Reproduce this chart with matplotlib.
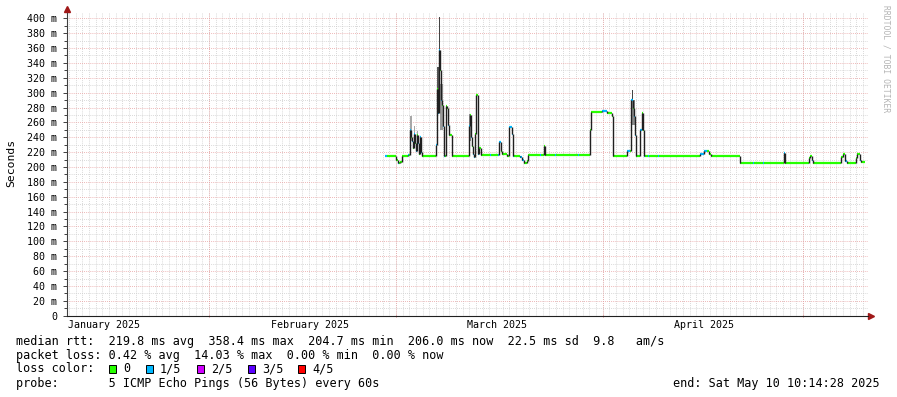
import matplotlib
matplotlib.use("Agg")
import matplotlib.pyplot as plt
from matplotlib.patches import Rectangle
import numpy as np

# days counted from 2025-01-01 00:00
start_day = 9.72
end_day = 129.74
month_starts = [31, 59, 90, 120]
month_label_days = [15.3, 46.1, 74.1, 105.1]
month_labels = ["January 2025", "February 2025", "March 2025", "April 2025"]

# median rtt steps: start day, value (ms), loss class (0 = none, 1 = 1/5 ...)
seg_day = [57.37, 57.67, 59.02, 59.32, 59.47, 59.62, 59.92, 60.82, 60.97, 61.12,
           61.27, 61.42, 61.57, 61.72, 61.87, 62.02, 62.17, 62.32, 62.47, 62.62,
           62.77, 62.92, 65.01, 65.16, 65.31, 65.46, 65.61, 65.76, 65.91, 66.06,
           66.21, 66.36, 66.51, 66.66, 66.81, 66.96, 67.41, 69.96, 70.11, 70.26,
           70.41, 70.56, 70.71, 70.86, 71.01, 71.31, 71.46, 71.76, 73.10, 73.25,
           74.30, 74.45, 74.75, 74.90, 75.65, 75.95, 76.40, 76.55, 76.70, 77.60,
           77.90, 78.20, 78.65, 78.80, 80.60, 80.75, 81.20, 81.35, 82.84, 82.99,
           86.29, 86.44, 88.09, 88.24, 89.89, 90.64, 91.38, 91.53, 93.63, 94.08,
           94.23, 94.53, 94.68, 94.83, 94.98, 95.58, 95.88, 96.03, 96.18, 96.33,
           96.78, 96.93, 98.28, 98.43, 104.57, 105.17, 105.62, 105.92, 106.22, 110.56,
           112.51, 112.66, 114.01, 114.16, 117.16, 117.31, 120.90, 121.05, 121.35, 121.50,
           125.70, 126.00, 126.30, 126.60, 127.94, 128.09, 128.54, 128.69]
rtt = [215, 215, 209, 205, 205, 207, 215, 216, 216, 250,
       240, 235, 225, 245, 232, 222, 243, 232, 218, 240,
       220, 215, 230, 305, 272, 358, 330, 290, 283, 255,
       215, 215, 282, 280, 256, 243, 215, 255, 270, 240,
       228, 218, 213, 245, 297, 217, 225, 216, 216, 216,
       216, 234, 222, 217, 215, 254, 245, 215, 215, 213,
       209, 206, 208, 216, 216, 216, 228, 216, 216, 216,
       216, 216, 250, 274, 275, 273, 268, 215, 221, 222,
       290, 280, 268, 243, 215, 250, 272, 250, 215, 215,
       215, 215, 215, 215, 217, 221, 222, 218, 215, 206,
       206, 206, 206, 206, 219, 206, 212, 215, 209, 206,
       213, 217, 208, 206, 212, 217, 210, 207]
loss = [1, 0, 0, 1, 0, 0, 0, 1, 0, 1,
        0, 1, 0, 1, 0, 1, 0, 1, 0, 1,
        1, 0, 1, 0, 1, 1, 0, 1, 0, 1,
        1, 0, 0, 0, 1, 0, 0, 1, 0, 1,
        0, 1, 1, 0, 0, 1, 0, 0, 1, 0,
        1, 1, 0, 0, 0, 1, 1, 1, 0, 1,
        1, 0, 0, 0, 1, 0, 0, 0, 1, 0,
        1, 0, 0, 0, 1, 0, 0, 0, 1, 0,
        1, 0, 1, 1, 0, 1, 0, 0, 1, 0,
        1, 0, 1, 0, 1, 1, 0, 0, 0, 0,
        1, 0, 1, 0, 1, 0, 0, 0, 1, 0,
        0, 0, 1, 0, 0, 0, 1, 0]
data_end = 129.29

# smoke (spread of the pings) around the spikes
smoke_start = [61.12, 61.72, 62.17, 65.16, 65.61, 65.50, 69.96, 94.38, 94.42, 95.88]
smoke_end = [61.42, 61.92, 62.37, 65.46, 66.06, 65.58, 70.26, 94.83, 94.48, 96.03]
smoke_lo = [235, 228, 225, 290, 250, 357, 235, 256, 290, 250]
smoke_hi = [268, 255, 248, 335, 312, 402, 271, 290, 303, 274]
smoke_col = ["#a8a8a8", "#a8a8a8", "#a8a8a8", "#555555", "#9a9a9a", "#444444",
             "#8c8c8c", "#8c8c8c", "#444444", "#8c8c8c"]

loss_colors = ["#26ff00", "#00b8ff", "#d000ff", "#5a00ff", "#ff0000"]
loss_names = ["0", "1/5", "2/5", "3/5", "4/5"]

mono = "DejaVu Sans Mono"
W, H = 897, 397

fig = plt.figure(figsize=(W / 100, H / 100), dpi=100)
ax = fig.add_axes([67 / W, (H - 315.7) / H, 801 / W, (315.7 - 13.3) / H])
ax.set_xlim(start_day, end_day)
ax.set_ylim(0, 406.7)

# grid
for d in range(10, 130):
    ax.axvline(d, color="#cccccc", lw=0.6, dashes=(1, 1.5), zorder=0)
for v in range(10, 401, 20):
    ax.axhline(v, color="#cccccc", lw=0.6, dashes=(1, 1.5), zorder=0)
for v in range(20, 401, 20):
    ax.axhline(v, color="#e8a0a0", lw=0.6, dashes=(1, 1.5), zorder=0)
for d in month_starts:
    ax.axvline(d, color="#e8a0a0", lw=0.6, dashes=(1, 1.5), zorder=0)

# smoke
for s, e, lo, hi, c in zip(smoke_start, smoke_end, smoke_lo, smoke_hi, smoke_col):
    ax.fill_between([s, e], [lo, lo], [hi, hi], color=c, lw=0, zorder=2)

# median line: coloured flats, dark vertical steps
seg_end = seg_day[1:] + [data_end]
ax.hlines(rtt, seg_day, seg_end, colors=[loss_colors[k] for k in loss], lw=1.6, zorder=3)
ax.vlines(seg_day[1:], rtt[:-1], rtt[1:], colors="#202020", lw=1.0, zorder=4)

# axes
for sp in ["top", "right"]:
    ax.spines[sp].set_visible(False)
ax.spines["left"].set_color("#404040")
ax.spines["bottom"].set_color("#202020")
ax.spines["left"].set_linewidth(0.8)
ax.spines["bottom"].set_linewidth(0.8)
ax.plot([1.004], [0], marker=">", color="#a01818", ms=4, transform=ax.transAxes, clip_on=False)
ax.plot([0], [1.015], marker="^", color="#a01818", ms=4, transform=ax.transAxes, clip_on=False)

ax.set_yticks(range(0, 401, 20))
ax.set_yticks(range(10, 401, 20), minor=True)
ax.set_yticklabels(["0"] + ["%d m" % v for v in range(20, 401, 20)], fontfamily=mono, fontsize=7.2)
ax.tick_params(axis="y", which="major", length=3, width=0.7, color="#404040", pad=4)
ax.tick_params(axis="y", which="minor", length=2, width=0.7, color="#404040")
ax.set_xticks(month_starts)
ax.set_xticklabels([])
ax.tick_params(axis="x", length=2, width=0.7, color="#e08080", direction="inout")
for d, lab in zip(month_label_days, month_labels):
    ax.text(d, -0.03, lab, transform=ax.get_xaxis_transform(), ha="center", va="center",
            fontfamily=mono, fontsize=7.2)

fig.text(11 / W, 1 - 163 / H, "Seconds", rotation=90, ha="center", va="center",
         fontfamily=mono, fontsize=8.2)
fig.text(886 / W, 1 - 5 / H, "RRDTOOL / TOBI OETIKER", rotation=270, ha="center", va="top",
         fontfamily=mono, fontsize=5.8, color="#b4b4b4")

# footer
fig.text(16 / W, 1 - 341.5 / H,
         "median rtt:  219.8 ms avg  358.4 ms max  204.7 ms min  206.0 ms now  22.5 ms sd  9.8   am/s",
         ha="left", va="center", fontfamily=mono, fontsize=8.5)
fig.text(16 / W, 1 - 355.5 / H, "packet loss: 0.42 % avg  14.03 % max  0.00 % min  0.00 % now",
         ha="left", va="center", fontfamily=mono, fontsize=8.5)
fig.text(16 / W, 1 - 369 / H, "loss color:", ha="left", va="center", fontfamily=mono, fontsize=8.5)
box_x = [109, 146, 197, 248, 298]
for bx, c, name in zip(box_x, loss_colors, loss_names):
    fig.patches.append(Rectangle((bx / W, 1 - 373 / H), 7 / W, 8 / H, transform=fig.transFigure,
                                 facecolor=c, edgecolor="black", lw=0.7))
    fig.text((bx + 14) / W, 1 - 369 / H, name, ha="left", va="center", fontfamily=mono, fontsize=8.5)
fig.text(16 / W, 1 - 383 / H, "probe:       5 ICMP Echo Pings (56 Bytes) every 60s",
         ha="left", va="center", fontfamily=mono, fontsize=8.5)
fig.text(880 / W, 1 - 383 / H, "end: Sat May 10 10:14:28 2025", ha="right", va="center",
         fontfamily=mono, fontsize=8.5)

fig.savefig("out.png", dpi=100)
